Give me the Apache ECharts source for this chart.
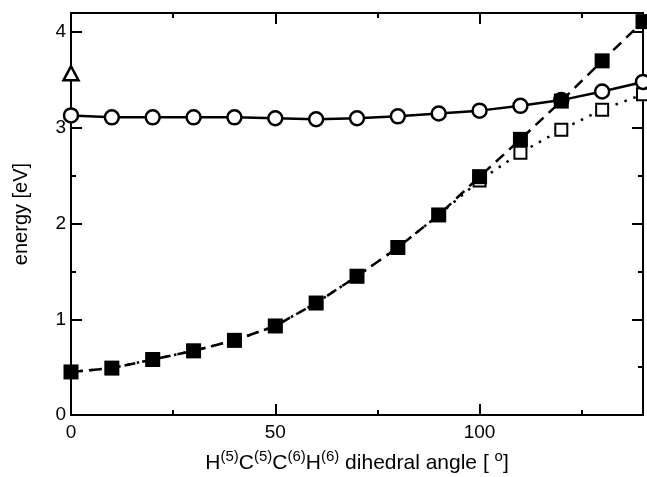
<!DOCTYPE html>
<html>
<head>
<meta charset="utf-8">
<script src="https://cdn.jsdelivr.net/npm/echarts@6/dist/echarts.min.js"></script>
<style>
  html, body { margin: 0; padding: 0; background: #fff; }
  #chart { width: 647px; height: 477px; }
</style>
</head>
<body>
<div id="chart"></div>
<script>
// Dihedral angle scan: excitation energies along H(5)C(5)C(6)H(6) torsion
const angles = [0, 10, 20, 30, 40, 50, 60, 70, 80, 90, 100, 110, 120, 130, 140];
const circleEnergy = [3.13, 3.11, 3.11, 3.11, 3.11, 3.10, 3.09, 3.10, 3.12, 3.15, 3.18, 3.23, 3.29, 3.38, 3.48];
const filledSquareEnergy = [0.45, 0.49, 0.58, 0.67, 0.78, 0.93, 1.17, 1.45, 1.75, 2.09, 2.49, 2.88, 3.28, 3.70, 4.11];
const openSquareEnergy = [0.45, 0.49, 0.58, 0.67, 0.78, 0.93, 1.17, 1.45, 1.75, 2.09, 2.45, 2.74, 2.98, 3.19, 3.35];
const triangleAngle = [0];
const triangleEnergy = [3.57];

const xMin = 0, xMax = 140, xMajor = 50, xMinor = 25;
const yMin = 0, yMax = 4.2, yMajor = 1, yMinor = 0.5;

const FONT = 'Liberation Sans, Arial, Helvetica, sans-serif';
const pairs = (xs, ys) => xs.map((x, i) => [x, ys[i]]);

function axisDef(position, min, max, interval, tickLen, withLabels, margin) {
  return {
    type: 'value', position, min, max, interval,
    axisLine: { show: true, onZero: false, lineStyle: { color: '#000', width: 2 } },
    axisTick: { show: true, inside: true, length: tickLen, lineStyle: { color: '#000', width: 2 } },
    axisLabel: withLabels
      ? { show: true, showMaxLabel: false, margin, fontSize: 19, fontFamily: FONT, color: '#000' }
      : { show: false },
    splitLine: { show: false }
  };
}

const xMain = axisDef('bottom', xMin, xMax, xMajor, 11, true, 8);
xMain.name = 'H{sup|(5)}C{sup|(5)}C{sup|(6)}H{sup|(6)} dihedral angle [ {sup|o}]';
xMain.nameLocation = 'middle';
xMain.nameGap = 34;
xMain.nameTextStyle = {
  fontSize: 21, fontFamily: FONT, color: '#000', lineHeight: 28,
  rich: { sup: { fontSize: 15, fontFamily: FONT, color: '#000', lineHeight: 13, verticalAlign: 'top' } }
};

const yMain = axisDef('left', yMin, yMax, yMajor, 11, true, 5);
yMain.name = 'energy [eV]';
yMain.nameLocation = 'middle';
yMain.nameGap = 40;
yMain.nameTextStyle = { fontSize: 20, fontFamily: FONT, color: '#000' };

const option = {
  backgroundColor: '#fff',
  animation: false,
  grid: { left: 71, right: 4, top: 13, bottom: 62, containLabel: false, outerBoundsMode: 'none' },
  xAxis: [
    xMain,
    axisDef('bottom', xMin, xMax, xMinor, 5, false),
    axisDef('top', xMin, xMax, xMajor, 11, false),
    axisDef('top', xMin, xMax, xMinor, 5, false)
  ],
  yAxis: [
    yMain,
    axisDef('left', yMin, yMax, yMinor, 5, false),
    axisDef('right', yMin, yMax, yMajor, 11, false),
    axisDef('right', yMin, yMax, yMinor, 5, false)
  ],
  series: [
    {
      type: 'line', data: pairs(angles, openSquareEnergy), clip: false,
      symbol: 'rect', symbolSize: 12,
      itemStyle: { color: '#fff', borderColor: '#000', borderWidth: 2 },
      lineStyle: { color: '#000', width: 2.5, type: [2.5, 7] },
      z: 2
    },
    {
      type: 'line', data: pairs(angles, circleEnergy), clip: false,
      symbol: 'circle', symbolSize: 14,
      itemStyle: { color: '#fff', borderColor: '#000', borderWidth: 2.5 },
      lineStyle: { color: '#000', width: 2.5, type: 'solid' },
      z: 3
    },
    {
      type: 'line', data: pairs(angles, filledSquareEnergy), clip: false,
      symbol: 'rect', symbolSize: 15,
      itemStyle: { color: '#000', borderColor: '#000', borderWidth: 0 },
      lineStyle: { color: '#000', width: 2.5, type: [11, 7] },
      z: 4
    },
    {
      type: 'line', data: pairs(triangleAngle, triangleEnergy), clip: false,
      symbol: 'triangle', symbolSize: [15, 14],
      itemStyle: { color: '#fff', borderColor: '#000', borderWidth: 2.5 },
      lineStyle: { width: 0 },
      z: 5
    }
  ]
};

const chart = echarts.init(document.getElementById('chart'), null, { renderer: 'canvas' });
chart.setOption(option);
</script>
</body>
</html>
